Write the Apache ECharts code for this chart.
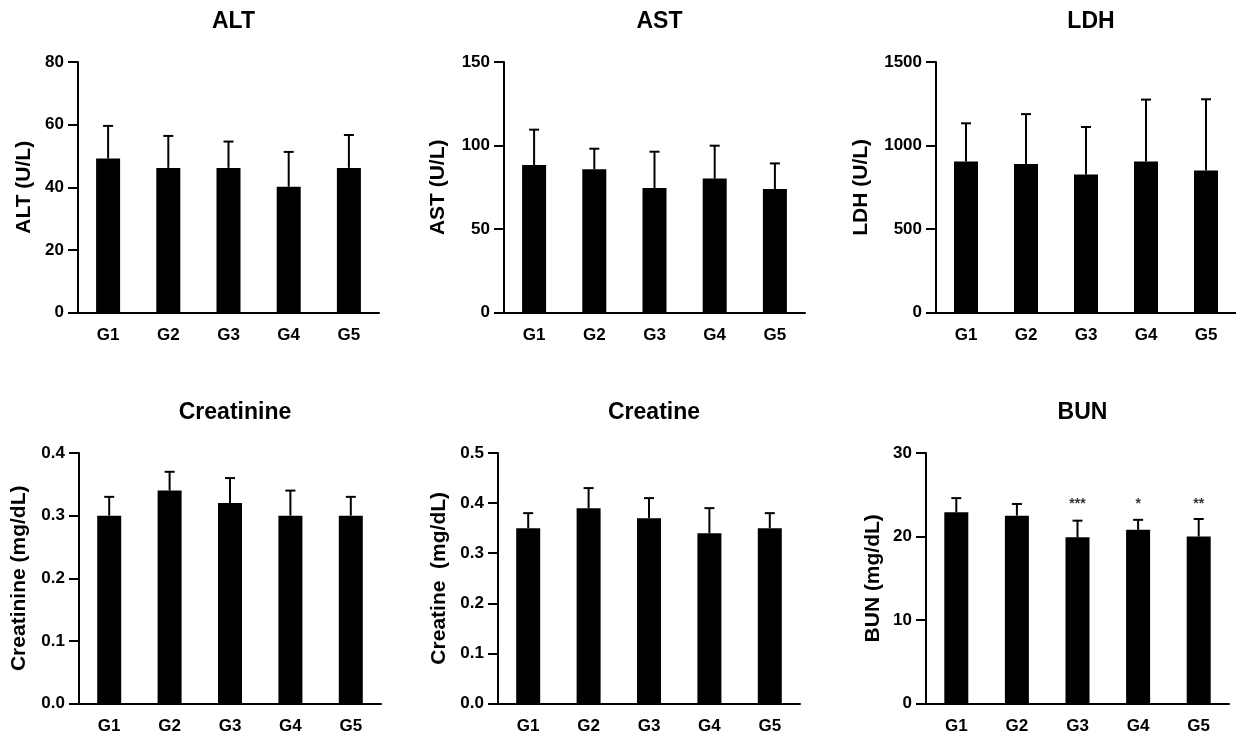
<!DOCTYPE html>
<html><head><meta charset="utf-8">
<script src="https://cdn.jsdelivr.net/npm/echarts@6/dist/echarts.min.js"></script>
<style>html,body{margin:0;padding:0;background:#fff}#c{width:1236px;height:740px}</style>
</head><body><div id="c"></div>
<script>
const groups = ['G1','G2','G3','G4','G5'];

const altMean = [49.2, 46.2, 46.2, 40.2, 46.2];
const altSD   = [10.4, 10.2, 8.4, 11.1, 10.5];
const astMean = [88.3, 85.8, 74.6, 80.2, 74.0];
const astSD   = [21.2, 12.3, 21.7, 19.7, 15.3];
const ldhMean = [905, 889, 827, 905, 850];
const ldhSD   = [228, 299, 284, 370, 427];
const creatinineMean = [0.30, 0.34, 0.32, 0.30, 0.30];
const creatinineSD   = [0.03, 0.03, 0.04, 0.04, 0.03];
const creatineMean = [0.35, 0.39, 0.37, 0.34, 0.35];
const creatineSD   = [0.03, 0.04, 0.04, 0.05, 0.03];
const bunMean = [22.9, 22.5, 19.9, 20.8, 20.0];
const bunSD   = [1.7, 1.4, 2.0, 1.2, 2.1];
const bunStars = ['', '', '***', '*', '**'];
const bunStarLevel = 23.9;

const altTicks = ['0','20','40','60','80'];
const astTicks = ['0','50','100','150'];
const ldhTicks = ['0','500','1000','1500'];
const creatinineTicks = ['0.0','0.1','0.2','0.3','0.4'];
const creatineTicks = ['0.0','0.1','0.2','0.3','0.4','0.5'];
const bunTicks = ['0','10','20','30'];

const FONT = '"Liberation Sans", Arial, sans-serif';

const panels = [
  {title:'ALT', yName:'ALT (U/L)', mean:altMean, sd:altSD, ticks:altTicks, left:78, top:62, width:301, gap:43},
  {title:'AST', yName:'AST (U/L)', mean:astMean, sd:astSD, ticks:astTicks, left:504, top:62, width:301, gap:55},
  {title:'LDH', yName:'LDH (U/L)', mean:ldhMean, sd:ldhSD, ticks:ldhTicks, left:936, top:62, width:300, gap:64},
  {title:'Creatinine', yName:'Creatinine (mg/dL)', mean:creatinineMean, sd:creatinineSD, ticks:creatinineTicks, left:79, top:453, width:302, gap:49},
  {title:'Creatine', yName:'Creatine  (mg/dL)', mean:creatineMean, sd:creatineSD, ticks:creatineTicks, left:498, top:453, width:302, gap:48},
  {title:'BUN', yName:'BUN (mg/dL)', mean:bunMean, sd:bunSD, ticks:bunTicks, left:926, top:453, width:303, gap:42}
];
const H = 250.6;

const option = {
  animation:false,
  backgroundColor:'#fff',
  title:[], grid:[], xAxis:[], yAxis:[], series:[]
};

panels.forEach((p, k) => {
  const tickVals = p.ticks.map(Number);
  const interval = tickVals[1] - tickVals[0];
  option.title.push({
    text:p.title, left:p.left + p.width/2, top:p.top - 57, textAlign:'center',
    textStyle:{fontFamily:FONT, fontSize:23, fontWeight:'bold', color:'#000'}
  });
  option.grid.push({left:p.left, top:p.top, width:p.width, height:H, containLabel:false});
  option.xAxis.push({
    type:'category', gridIndex:k, data:groups, boundaryGap:true,
    axisLine:{lineStyle:{color:'#000', width:2}},
    axisTick:{alignWithLabel:true, length:10, lineStyle:{color:'#000', width:2}},
    axisLabel:{color:'#000', fontFamily:FONT, fontSize:17, fontWeight:'bold', margin:14},
    splitLine:{show:false}
  });
  option.yAxis.push({
    type:'value', gridIndex:k, min:tickVals[0], max:tickVals[tickVals.length-1], interval:interval,
    name:p.yName, nameLocation:'middle', nameGap:p.gap, nameRotate:90,
    nameTextStyle:{color:'#000', fontFamily:FONT, fontSize:21, fontWeight:'bold'},
    axisLine:{show:true, lineStyle:{color:'#000', width:2}},
    axisTick:{show:true, length:10, lineStyle:{color:'#000', width:2}},
    axisLabel:{color:'#000', fontFamily:FONT, fontSize:17, fontWeight:'bold', margin:14,
      formatter:(v) => { const i = tickVals.findIndex(t => Math.abs(t - v) < 1e-9); return i >= 0 ? p.ticks[i] : ''; }},
    splitLine:{show:false}
  });
  option.series.push({
    type:'bar', xAxisIndex:k, yAxisIndex:k, data:p.mean, barWidth:24,
    itemStyle:{color:'#000'}, z:2
  });
  option.series.push({
    type:'custom', xAxisIndex:k, yAxisIndex:k, z:3,
    data:p.mean.map((m,i) => [i, m, p.sd[i]]),
    encode:{x:0, y:1},
    renderItem:(params, api) => {
      const x = api.value(0), m = api.value(1), s = api.value(2);
      const p0 = api.coord([x, m]);
      const p1 = api.coord([x, m + s]);
      const hw = 5;
      return {type:'group', children:[
        {type:'line', shape:{x1:p0[0], y1:p0[1], x2:p1[0], y2:p1[1]}, style:{stroke:'#000', lineWidth:2}},
        {type:'line', shape:{x1:p1[0]-hw, y1:p1[1], x2:p1[0]+hw, y2:p1[1]}, style:{stroke:'#000', lineWidth:2}}
      ]};
    }
  });
  if (p.title === 'BUN') {
    option.series.push({
      type:'scatter', xAxisIndex:k, yAxisIndex:k, symbolSize:0,
      data:bunStars.map((s,i) => [i, bunStarLevel, s]),
      label:{show:true, position:'inside', formatter:(q) => q.data[2], color:'#000',
        fontFamily:FONT, fontSize:14, fontWeight:'bold'}
    });
  }
});

const chart = echarts.init(document.getElementById('c'), null, {renderer:'canvas'});
chart.setOption(option);
</script>
</body></html>
